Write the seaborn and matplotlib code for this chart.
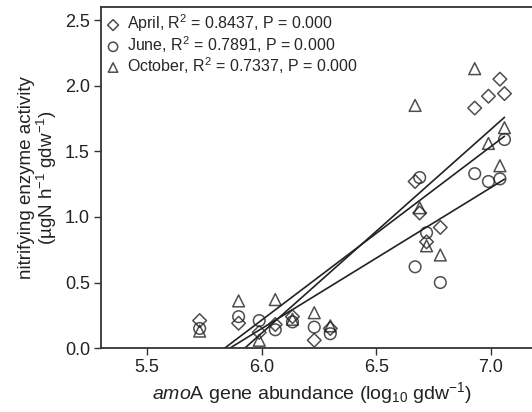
import numpy as np
import pandas as pd
import matplotlib
matplotlib.use("Agg")
import matplotlib.pyplot as plt
import seaborn as sns

# gene abundance (log10 gdw-1) per site, same sites each month
amoa = [5.73, 5.90, 5.99, 6.06, 6.135, 6.23, 6.30,
        6.67, 6.69, 6.72, 6.78, 6.93, 6.99, 7.04, 7.06]
april = [0.21, 0.19, 0.12, 0.18, 0.24, 0.06, 0.15,
         1.27, 1.03, 0.81, 0.92, 1.83, 1.92, 2.05, 1.94]
june = [0.15, 0.24, 0.21, 0.14, 0.20, 0.16, 0.11,
        0.62, 1.30, 0.88, 0.50, 1.33, 1.27, 1.29, 1.59]
october = [0.13, 0.36, 0.06, 0.37, 0.22, 0.27, 0.17,
           1.85, 1.07, 0.78, 0.71, 2.13, 1.56, 1.39, 1.68]

months = ["April", "June", "October"]
r2 = ["0.8437", "0.7891", "0.7337"]
markers = ["D", "o", "^"]
sizes = [48, 70, 72]

df = pd.DataFrame({
    "amoa": amoa * 3,
    "activity": april + june + october,
    "month": np.repeat(months, len(amoa)),
})

sns.set_style("ticks")
plt.rcParams["font.family"] = ["Liberation Sans", "DejaVu Sans"]
plt.rcParams["mathtext.fontset"] = "custom"
plt.rcParams["mathtext.rm"] = "Liberation Sans"
plt.rcParams["mathtext.it"] = "Liberation Sans:italic"

fig = plt.figure(figsize=(5.32, 4.12), dpi=100)
ax = fig.add_axes([0.19, 0.155, 0.81, 0.828])

for m, r, mk, s in zip(months, r2, markers, sizes):
    sub = df[df["month"] == m]
    sns.regplot(data=sub, x="amoa", y="activity", ax=ax, ci=None, marker=mk,
                scatter_kws=dict(s=s, facecolors="none", edgecolors="#222222", linewidths=1.1),
                line_kws=dict(color="#222222", lw=1.2), truncate=True,
                label=f"{m}, R$^2$ = {r}, P = 0.000")

ax.set_xlim(5.30, 7.18)
ax.set_ylim(0, 2.6)
ax.set_xticks([5.5, 6.0, 6.5, 7.0])
ax.set_yticks([0.0, 0.5, 1.0, 1.5, 2.0, 2.5])
ax.set_xticklabels(["5.5", "6.0", "6.5", "7.0"])
ax.set_yticklabels(["0.0", "0.5", "1.0", "1.5", "2.0", "2.5"])
ax.tick_params(labelsize=13, length=5, width=1, pad=3, colors="#333333", labelcolor="#222222")
for sp in ["left", "bottom", "top"]:
    ax.spines[sp].set_color("#333333")
    ax.spines[sp].set_linewidth(1.3)
ax.spines["right"].set_visible(False)

ax.set_xlabel("$\\it{amo}$A gene abundance (log$_{10}$ gdw$^{-1}$)", fontsize=14, color="#222222",
              labelpad=3)
ax.xaxis.set_label_coords(0.49, -0.095)
ax.set_ylabel("nitrifying enzyme activity\n(µgN h$^{-1}$ gdw$^{-1}$)", fontsize=13.5,
              color="#222222", linespacing=1.0, labelpad=4)

handles, labels = ax.get_legend_handles_labels()
ax.legend(handles[:3], labels[:3], loc="upper left", bbox_to_anchor=(0.0, 1.0),
          frameon=False, fontsize=11.5, handlelength=0.8, handletextpad=0.45,
          borderpad=0.35, borderaxespad=0.0, labelspacing=0.0, markerscale=0.8)

fig.savefig("out.png", dpi=100)
